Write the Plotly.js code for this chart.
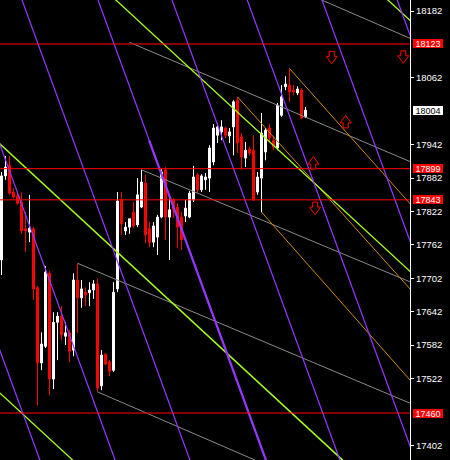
<!DOCTYPE html>
<html>
<head>
<meta charset="utf-8">
<script src="https://cdn.plot.ly/plotly-3.0.1.min.js"></script>
<style>
  html, body { margin: 0; padding: 0; background: #000; }
  #chart { width: 450px; height: 460px; }
</style>
</head>
<body>
<div id="chart"></div>
<script>
// ---- candle data (bar index, OHLC) ----
const barIndex = [];
for (let i = 0; i < 77; i++) barIndex.push(i);
const opens = [17735,17886,17905,17857,17850,17839,17791,17785,17791,17685,
               17550,17580,17711,17521,17623,17634,17598,17604,17573,17699,
               17667,17677,17676,17681,17692,17509,17566,17552,17537,17683,
               17843,17787,17794,17821,17798,17830,17873,17791,17767,17776,
               17812,17897,17812,17843,17830,17812,17814,17812,17843,17888,
               17861,17879,17882,17911,17959,17965,17972,17958,17974,18022,
               17956,17918,17934,17932,17857,17882,17929,17972,17950,17936,
               17995,18046,18049,18040,18035,18040,17992];
const highs = [17893,17922,17922,17864,17855,17857,17821,17852,17794,17688,
               17605,17724,17715,17641,17641,17652,17623,17609,17711,17729,
               17699,17686,17695,17699,17701,17573,17566,17555,17695,17857,
               17857,17803,17809,17839,17882,17897,17888,17803,17803,17816,
               17898,17902,17846,17846,17837,17821,17843,17859,17904,17891,
               17889,17891,17941,17979,17981,17986,17974,17972,18022,18028,
               17963,17947,17938,17959,17893,17999,17972,17979,17958,18017,
               18049,18065,18079,18049,18047,18044,18010];
const lows  = [17708,17879,17852,17845,17834,17783,17749,17767,17663,17474,
               17537,17577,17492,17503,17555,17591,17582,17552,17562,17604,
               17649,17652,17652,17665,17498,17501,17546,17526,17534,17677,
               17780,17780,17782,17792,17794,17828,17765,17758,17758,17744,
               17810,17771,17735,17810,17756,17753,17803,17810,17839,17855,
               17857,17861,17857,17905,17945,17950,17954,17945,17923,17927,
               17897,17902,17923,17841,17852,17821,17914,17947,17932,17932,
               17992,18040,18019,18031,18031,17988,17990];
const closes = [17886,17902,17855,17848,17837,17787,17787,17792,17683,17550,
               17584,17713,17521,17623,17634,17600,17604,17571,17699,17667,
               17683,17672,17681,17692,17505,17564,17548,17535,17677,17841,
               17800,17794,17809,17796,17852,17875,17780,17767,17796,17812,
               17893,17812,17825,17825,17794,17771,17828,17855,17884,17861,
               17886,17884,17936,17972,17974,17974,17959,17965,18019,17945,
               17920,17932,17927,17843,17884,17963,17968,17954,17938,18013,
               18028,18051,18037,18037,18042,17990,18004];

// ---- axis ----
const tickVals = [18182,18062,17942,17882,17822,17762,17702,17642,17582,17522,17402];
const priceRange = [17375.6, 18202.0];
const barRange = [-0.375, 102.125];

// ---- horizontal levels and labels ----
const levelPrices = [18123, 17899, 17843, 17460];
const currentPrice = 18004;

// ---- trend / channel lines: [x0, price0, x1, price1] ----
const purpleLines = [
  [-33.8,18230,10.9,17350],[-15.0,18230,29.7,17350],[3.7,18230,48.4,17350],
  [22.7,18230,67.4,17350],[41.2,18230,85.9,17350],[60.0,18230,104.7,17350],
  [78.7,18230,123.4,17350],[97.5,18230,142.2,17350],
  [36.9,17950,67.4,17350]
];
const purpleWidths = [1.2,1.2,1.2,1.2,1.2,1.2,1.2,1.2,2.2];
const greenLines = [
  [-2,17954.1,88,17357.4],[27,18212.6,104,17702.1],
  [95,18212.6,104,18152.9],[-2,17506.7,20,17360.8]
];
const greenWidths = [1.6,1.3,1.3,1.3];
const grayLines = [
  [32,18126,104,17906],[78,18208.4,104,18127.3],[35,17897,104,17690],
  [19,17729,104,17472],[24,17498,104,17249]
];
const orangeLines = [
  [59,18028,104,17668],[72,18079,104,17821],[65,17821,104,17504]
];

// ---- arrows ----
const arrowX = [82.55, 100.45, 86.05, 77.95, 78.4];
const arrowPrice = [18099, 18100, 17983, 17909, 17828];
const arrowDir = ['down','down','up','up','down'];

const traces = [{
  type: 'candlestick',
  x: barIndex, open: opens, high: highs, low: lows, close: closes,
  increasing: {line: {color: '#ffffff', width: 1}, fillcolor: '#ffffff'},
  decreasing: {line: {color: '#ff0000', width: 1}, fillcolor: '#ff0000'},
  whiskerwidth: 0,
  hoverinfo: 'skip'
}];

function addLines(list, color, widths) {
  list.forEach((l, i) => {
    traces.push({
      type: 'scatter', mode: 'lines',
      x: [l[0], l[2]], y: [l[1], l[3]],
      line: {color: color, width: widths ? widths[i] : 1},
      hoverinfo: 'skip'
    });
  });
}
addLines(grayLines, '#8a8a8a');
addLines(orangeLines, '#d08a10');
addLines(greenLines, '#a6ff1a', greenWidths);
addLines(purpleLines, '#9438ff', purpleWidths);

const shapes = levelPrices.map(p => ({
  type: 'line', xref: 'paper', x0: 0, x1: 1, yref: 'y', y0: p, y1: p,
  line: {color: '#ff0000', width: 1}, layer: 'above'
}));

const downPath = 'M -2.5,6 L 2.5,6 L 2.5,1 L 5.5,1 L 0,-6.5 L -5.5,1 L -2.5,1 Z';
const upPath = 'M -2.5,-6 L 2.5,-6 L 2.5,-1 L 5.5,-1 L 0,6.5 L -5.5,-1 L -2.5,-1 Z';
arrowX.forEach((x, i) => {
  shapes.push({
    type: 'path', xref: 'x', yref: 'y',
    xsizemode: 'pixel', ysizemode: 'pixel',
    xanchor: x, yanchor: arrowPrice[i],
    path: arrowDir[i] === 'down' ? downPath : upPath,
    line: {color: '#ff0000', width: 1}, fillcolor: '#000000', layer: 'above'
  });
});

const annotations = levelPrices.map(p => ({
  xref: 'paper', x: 1, xanchor: 'left', xshift: 3,
  yref: 'y', y: p, yanchor: 'middle',
  text: String(p), showarrow: false,
  font: {family: 'Liberation Sans, Arial, sans-serif', size: 9, color: '#ffffff'},
  bgcolor: '#ff0000', borderpad: 1, borderwidth: 0, width: 28, height: 7
}));
annotations.push({
  xref: 'paper', x: 1, xanchor: 'left', xshift: 3,
  yref: 'y', y: currentPrice, yanchor: 'middle',
  text: String(currentPrice), showarrow: false,
  font: {family: 'Liberation Sans, Arial, sans-serif', size: 9, color: '#000000'},
  bgcolor: '#ffffff', borderpad: 1, borderwidth: 0, width: 28, height: 7
});

const layout = {
  width: 450, height: 460,
  margin: {l: 0, r: 40, t: 0, b: 0, pad: 0},
  paper_bgcolor: '#000000', plot_bgcolor: '#000000',
  showlegend: false,
  boxgap: 0.3,
  xaxis: {range: barRange, visible: false, rangeslider: {visible: false}, fixedrange: true},
  yaxis: {
    side: 'right', range: priceRange,
    tickvals: tickVals, ticktext: tickVals.map(String),
    showgrid: false, zeroline: false,
    showline: true, linecolor: '#ffffff', linewidth: 1,
    ticks: 'outside', ticklen: 3, tickcolor: '#ffffff', tickwidth: 1,
    tickfont: {family: 'Liberation Sans, Arial, sans-serif', size: 9.5, color: '#ffffff'},
    fixedrange: true
  },
  shapes: shapes,
  annotations: annotations
};

Plotly.newPlot('chart', traces, layout, {staticPlot: true, displayModeBar: false});
</script>
</body>
</html>
